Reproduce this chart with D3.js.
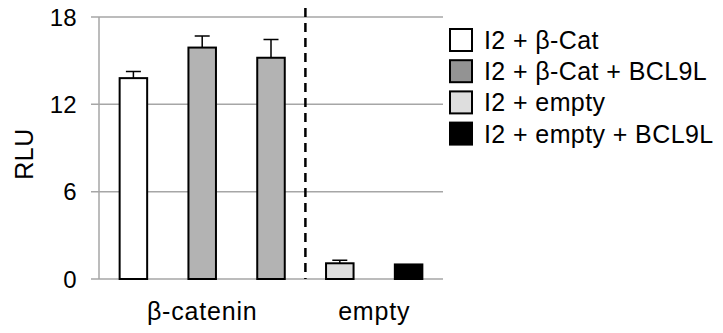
<!DOCTYPE html>
<html>
<head>
<meta charset="utf-8">
<script src="https://cdn.jsdelivr.net/npm/d3@7"></script>
<style>
body { margin: 0; background: #fff; }
text { font-family: "Liberation Sans", Arial, Helvetica, sans-serif; fill: #000; }
</style>
</head>
<body>
<svg width="723" height="333"></svg>
<script>
var svg = d3.select("svg");

// bars, left to right
var bars = ["a", "b", "c", "d", "e"];
var values = [13.8, 15.9, 15.2, 1.08, 1.0];
var errors = [0.45, 0.8, 1.25, 0.2, 0];
var fills = ["#ffffff", "#b3b3b3", "#b3b3b3", "#dedede", "#000000"];

var groups = ["β-catenin", "empty"];
var groupBars = [["a", "b", "c"], ["d", "e"]];

var legendNames = ["I2 + β-Cat", "I2 + β-Cat + BCL9L", "I2 + empty", "I2 + empty + BCL9L"];
var legendFills = ["#ffffff", "#939393", "#dedede", "#000000"];

var yTicks = [0, 6, 12, 18];

var x = d3.scaleBand()
	.domain(bars)
	.range([99, 443])
	.paddingInner(0.6)
	.paddingOuter(0.3);

var y = d3.scaleLinear()
	.domain([0, 18])
	.range([279, 17]);

// grid + ticks
var grid = svg.append("g");
grid.selectAll("line")
	.data(yTicks).enter()
	.append("line")
	.attr("x1", 91)
	.attr("x2", 443)
	.attr("y1", function(d) { return y(d); })
	.attr("y2", function(d) { return y(d); })
	.attr("stroke", "#a6a6a6")
	.attr("stroke-width", 1.5);

grid.selectAll("text")
	.data(yTicks).enter()
	.append("text")
	.attr("x", 77)
	.attr("y", function(d) { return y(d); })
	.attr("dy", "0.36em")
	.attr("text-anchor", "end")
	.style("font-size", "24px")
	.style("letter-spacing", "0.3px")
	.text(function(d) { return d; });

svg.append("line")
	.attr("x1", 99).attr("x2", 99)
	.attr("y1", y(18)).attr("y2", y(0))
	.attr("stroke", "#a6a6a6")
	.attr("stroke-width", 1.5);

svg.append("text")
	.attr("transform", "translate(33," + 154 + ") rotate(-90)")
	.attr("text-anchor", "middle")
	.style("font-size", "25px")
	.style("letter-spacing", "0.5px")
	.text("RLU");

// dashed separator between the groups
var sepX = x("c") + x.bandwidth() + x.step() * x.paddingInner() / 2;
svg.append("line")
	.attr("x1", sepX).attr("x2", sepX)
	.attr("y1", 8).attr("y2", y(0))
	.attr("stroke", "#000")
	.attr("stroke-width", 2.5)
	.attr("stroke-dasharray", "9,6");

var data = bars.map(function(b, i) {
	return {key: b, value: values[i], err: errors[i], fill: fills[i]};
});

var bar = svg.append("g").selectAll("g")
	.data(data).enter()
	.append("g");

bar.filter(function(d) { return d.err > 0; })
	.append("path")
	.attr("d", function(d) {
		var cx = x(d.key) + x.bandwidth() / 2;
		var top = y(d.value + d.err);
		return "M" + cx + "," + y(d.value) + "V" + top + "M" + (cx - 7.5) + "," + top + "H" + (cx + 7.5);
	})
	.attr("stroke", "#000")
	.attr("stroke-width", 1.5)
	.attr("fill", "none");

bar.append("rect")
	.attr("x", function(d) { return x(d.key); })
	.attr("y", function(d) { return y(d.value); })
	.attr("width", x.bandwidth())
	.attr("height", function(d) { return y(0) - y(d.value); })
	.attr("fill", function(d) { return d.fill; })
	.attr("stroke", "#000")
	.attr("stroke-width", 2);

// group labels
svg.append("g").selectAll("text")
	.data(groups).enter()
	.append("text")
	.attr("x", function(d, i) {
		var k = groupBars[i];
		return (x(k[0]) + x(k[k.length - 1]) + x.bandwidth()) / 2;
	})
	.attr("y", 320)
	.attr("text-anchor", "middle")
	.style("font-size", "25px")
	.style("letter-spacing", "0.8px")
	.text(function(d) { return d; });

// legend
var legend = svg.append("g").selectAll("g")
	.data(legendNames).enter()
	.append("g")
	.attr("transform", function(d, i) { return "translate(450," + (29 + i * 31.2) + ")"; });

legend.append("rect")
	.attr("width", 22)
	.attr("height", 22)
	.attr("fill", function(d, i) { return legendFills[i]; })
	.attr("stroke", "#000")
	.attr("stroke-width", 2);

legend.append("text")
	.attr("x", 34)
	.attr("y", 20)
	.style("font-size", "25px")
	.style("letter-spacing", "0.4px")
	.text(function(d) { return d; });
</script>
</body>
</html>
